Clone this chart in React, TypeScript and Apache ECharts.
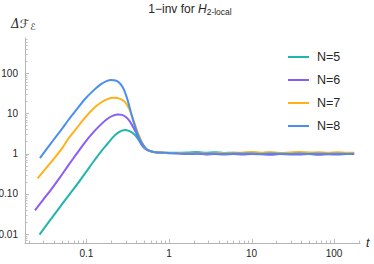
import React, { useEffect, useRef } from 'react';
import * as echarts from 'echarts';

// ---- data ----
const seriesNames = ['N=5', 'N=6', 'N=7', 'N=8'];
const seriesColors = ['#22b5ac', '#8b5cf6', '#ffb218', '#4a8ff0'];

const riseTN5 = [0.027, 0.035, 0.045, 0.06, 0.08, 0.1, 0.125, 0.15, 0.18, 0.21, 0.24, 0.27, 0.295, 0.32, 0.35, 0.39, 0.43, 0.47, 0.52, 0.58, 0.65, 0.75];
const riseYN5 = [0.0097, 0.02, 0.04, 0.088, 0.19, 0.36, 0.68, 1.12, 1.75, 2.55, 3.25, 3.7, 3.85, 3.7, 3.4, 2.85, 2.15, 1.6, 1.3, 1.16, 1.09, 1.06];

const riseTN6 = [0.0238, 0.03, 0.038, 0.048, 0.06, 0.075, 0.095, 0.12, 0.15, 0.18, 0.21, 0.24, 0.27, 0.3, 0.33, 0.36, 0.39, 0.43, 0.47, 0.52, 0.58, 0.65, 0.75];
const riseYN6 = [0.039, 0.072, 0.135, 0.26, 0.5, 0.95, 1.85, 3.3, 5.3, 7.3, 8.7, 9.35, 9.1, 8.1, 6.6, 4.9, 3.6, 2.4, 1.65, 1.3, 1.16, 1.09, 1.05];

const riseTN7 = [0.0256, 0.032, 0.04, 0.05, 0.06, 0.075, 0.095, 0.12, 0.15, 0.18, 0.21, 0.235, 0.26, 0.29, 0.32, 0.35, 0.38, 0.41, 0.45, 0.49, 0.53, 0.58, 0.65, 0.75];
const riseYN7 = [0.24, 0.42, 0.73, 1.3, 2.3, 4.1, 7.6, 12.8, 18.5, 22.5, 24.2, 24.0, 22.5, 19.5, 14.5, 9.5, 5.9, 3.7, 2.3, 1.6, 1.3, 1.16, 1.09, 1.06];

const riseTN8 = [0.0273, 0.033, 0.04, 0.05, 0.06, 0.075, 0.095, 0.12, 0.15, 0.175, 0.2, 0.225, 0.25, 0.275, 0.3, 0.325, 0.35, 0.38, 0.41, 0.45, 0.49, 0.53, 0.58, 0.65, 0.75];
const riseYN8 = [0.77, 1.3, 2.2, 4.0, 6.7, 12, 22, 36, 53, 63, 67, 65, 57, 44, 29, 17, 9.5, 5.3, 3.3, 2.1, 1.6, 1.3, 1.17, 1.09, 1.06];

const plateauT = [0.85, 1, 1.3, 1.7, 2.2, 2.8, 3.6, 4.6, 6, 7.8, 10, 13, 17, 22, 29, 38, 50, 65, 85, 110, 140, 175];
const plateauYN5 = [1.05, 1.04, 1.05, 1.06, 1.09, 1.04, 1.08, 1.03, 1.05, 1.02, 1.04, 1.03, 1.05, 1.02, 1.03, 1.01, 1.04, 1.02, 1.03, 1.01, 1.03, 1.02];
const plateauYN6 = [1.04, 1.02, 1.0, 0.97, 0.99, 0.95, 0.98, 0.94, 0.97, 0.95, 0.98, 0.96, 0.93, 0.97, 0.95, 0.94, 0.97, 0.93, 0.96, 0.94, 0.97, 0.98];
const plateauYN7 = [1.05, 1.03, 1.03, 1.02, 1.04, 1.01, 1.03, 1.02, 1.04, 1.06, 1.09, 1.05, 1.08, 1.03, 1.06, 1.09, 1.05, 1.08, 1.04, 1.07, 1.04, 1.05];
const plateauYN8 = [1.05, 1.03, 1.01, 1.0, 1.01, 0.99, 1.0, 0.98, 1.0, 0.99, 1.0, 0.98, 1.0, 0.99, 0.98, 1.0, 0.98, 0.99, 0.98, 0.99, 0.98, 0.99];

const riseT = [riseTN5, riseTN6, riseTN7, riseTN8];
const riseY = [riseYN5, riseYN6, riseYN7, riseYN8];
const plateauY = [plateauYN5, plateauYN6, plateauYN7, plateauYN8];

const xMin = 0.018;
const xMax = 206;
const yMin = 0.006;
const yMax = 740;

const xTickValues = [0.1, 1, 10, 100];
const xTickLabels = ['0.1', '1', '10', '100'];
const yTickValues = [0.01, 0.1, 1, 10, 100];
const yTickLabels = ['0.01', '0.10', '1', '10', '100'];

const minorMultipliers = [2, 3, 4, 5, 6, 7, 8, 9];
const xDecades = [0.01, 0.1, 1, 10, 100];
const yDecades = [0.001, 0.01, 0.1, 1, 10, 100];

const minorTicks = (decades: number[], lo: number, hi: number) =>
  decades
    .flatMap((d) => minorMultipliers.map((m) => +(d * m).toPrecision(3)))
    .filter((v) => v > lo && v < hi);

const xMinorTicks = minorTicks(xDecades, xMin, xMax);
const yMinorTicks = minorTicks(yDecades, yMin, yMax);

const axisColor = '#b5b5b5';
const tickColor = '#bdbdbd';
const labelColor = '#262626';
const baseFont = '"Liberation Sans", Arial, sans-serif';

const labelFor = (vals: number[], labels: string[]) => (v: number) => {
  const i = vals.findIndex((t) => Math.abs(Math.log10(v) - Math.log10(t)) < 0.01);
  return i >= 0 ? labels[i] : '';
};

const tickSeries = (axis: 'x' | 'y', values: number[], len: number) => ({
  type: 'custom',
  silent: true,
  clip: false,
  z: 1,
  data: values.map((v) => (axis === 'x' ? [v, 1] : [1, v])),
  renderItem: (params: any, api: any) => {
    const cs = params.coordSys;
    if (axis === 'x') {
      const x = Math.round(api.coord([api.value(0), 1])[0]) + 0.5;
      const y = cs.y + cs.height;
      return {
        type: 'line',
        shape: { x1: x, y1: y, x2: x, y2: y - len },
        style: { stroke: tickColor, lineWidth: 1 },
      };
    }
    const y = Math.round(api.coord([1, api.value(1)])[1]) + 0.5;
    const x = cs.x;
    return {
      type: 'line',
      shape: { x1: x, y1: y, x2: x + len, y2: y },
      style: { stroke: tickColor, lineWidth: 1 },
    };
  },
});

export default function App() {
  const ref = useRef<HTMLDivElement>(null);

  useEffect(() => {
    if (!ref.current) return;
    const chart = echarts.init(ref.current, null, { renderer: 'svg' });

    const lineSeries = seriesNames.map((name, i) => ({
      name,
      type: 'line',
      data: [
        ...riseT[i].map((t, j) => [t, riseY[i][j]]),
        ...plateauT.map((t, j) => [t, plateauY[i][j]]),
      ],
      showSymbol: false,
      symbol: 'none',
      smooth: 0.3,
      z: 3,
      lineStyle: { color: seriesColors[i], width: 2 },
      itemStyle: { color: seriesColors[i] },
      emphasis: { disabled: true },
    }));

    chart.setOption({
      animation: false,
      backgroundColor: '#ffffff',
      grid: { left: 25, right: 14, top: 38, bottom: 21, containLabel: false, outerBoundsMode: 'none' },
      graphic: [
        {
          type: 'text',
          x: 190,
          y: 1,
          silent: true,
          style: {
            text: '1−inv for {i|H}{s|2-local}',
            align: 'center',
            verticalAlign: 'top',
            fill: labelColor,
            fontFamily: baseFont,
            fontSize: 12,
            rich: {
              i: { fontStyle: 'italic', fontSize: 12, fontFamily: baseFont, fill: labelColor },
              s: { fontSize: 8.5, fontFamily: baseFont, padding: [6, 0, 0, 0], fill: labelColor },
            },
          },
        },
        {
          type: 'text',
          x: 11,
          y: 17,
          silent: true,
          style: {
            text: '{a|Δℱ}{b|ℰ}',
            align: 'left',
            verticalAlign: 'top',
            fill: labelColor,
            rich: {
              a: { fontSize: 12, fontStyle: 'italic', fontFamily: '"DejaVu Serif", "DejaVu Sans", serif', fill: labelColor },
              b: { fontSize: 9, fontStyle: 'italic', fontFamily: '"DejaVu Serif", "DejaVu Sans", serif', padding: [5, 0, 0, 1], fill: labelColor },
            },
          },
        },
      ],
      legend: {
        data: seriesNames,
        orient: 'vertical',
        left: 283,
        top: 45,
        icon: 'rect',
        itemWidth: 21,
        itemHeight: 2,
        itemGap: 9,
        selectedMode: false,
        textStyle: {
          fontSize: 12.5,
          lineHeight: 14,
          fontFamily: baseFont,
          color: labelColor,
          padding: [0, 0, 0, 3],
        },
      },
      xAxis: {
        type: 'log',
        logBase: 10,
        min: xMin,
        max: xMax,
        name: 't',
        nameLocation: 'end',
        nameGap: 6,
        nameTextStyle: { fontStyle: 'italic', fontSize: 12.5, fontFamily: baseFont, color: labelColor, verticalAlign: 'middle' },
        axisLine: { show: true, lineStyle: { color: axisColor, width: 1 } },
        axisTick: { show: false },
        minorTick: { show: false },
        splitLine: { show: false },
        axisLabel: {
          margin: 5,
          fontSize: 10,
          fontFamily: baseFont,
          color: labelColor,
          showMinLabel: false,
          showMaxLabel: false,
          hideOverlap: false,
          formatter: labelFor(xTickValues, xTickLabels),
        },
      },
      yAxis: {
        type: 'log',
        logBase: 10,
        min: yMin,
        max: yMax,
        axisLine: { show: true, lineStyle: { color: axisColor, width: 1 } },
        axisTick: { show: false },
        minorTick: { show: false },
        splitLine: { show: false },
        axisLabel: {
          margin: 7,
          fontSize: 10,
          fontFamily: baseFont,
          color: labelColor,
          showMinLabel: false,
          showMaxLabel: false,
          hideOverlap: false,
          formatter: labelFor(yTickValues, yTickLabels),
        },
      },
      series: [
        tickSeries('x', xTickValues, 4),
        tickSeries('x', xMinorTicks, 2.5),
        tickSeries('y', yTickValues, 4),
        tickSeries('y', yMinorTicks, 2.5),
        ...lineSeries,
      ],
    });

    return () => chart.dispose();
  }, []);

  return (
    <div
      ref={ref}
      style={{ position: 'fixed', left: 0, top: 0, width: 374, height: 264, background: '#fff' }}
    />
  );
}
